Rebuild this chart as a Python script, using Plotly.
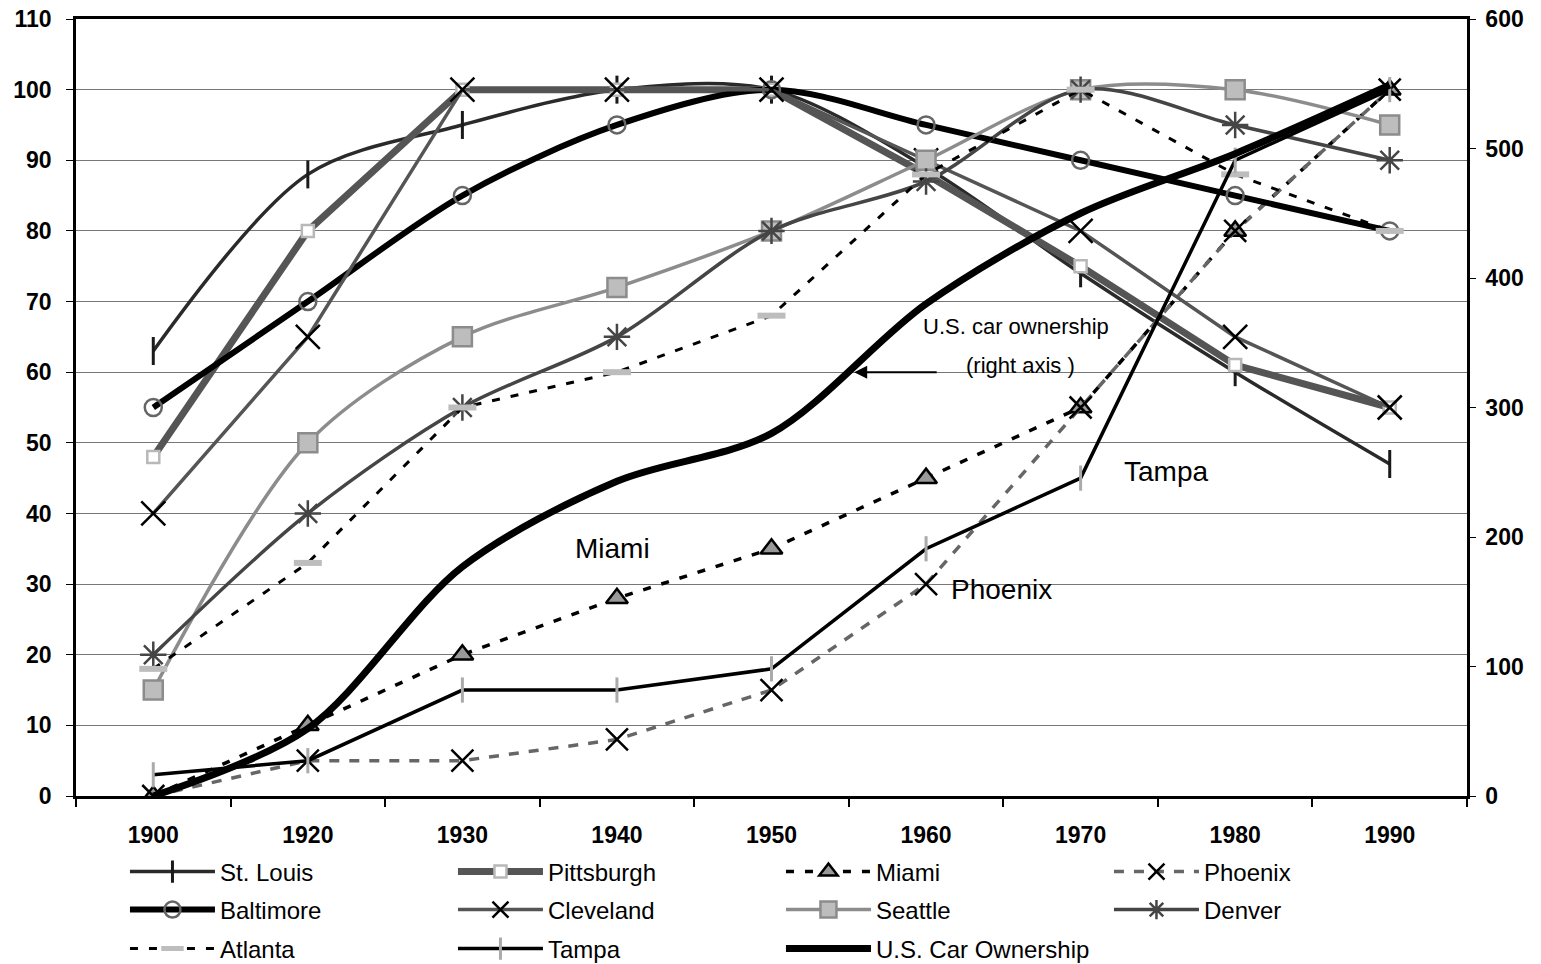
import plotly.graph_objects as go

years = ["1900", "1920", "1930", "1940", "1950", "1960", "1970", "1980", "1990"]

st_louis   = [63, 88, 95, 100, 100, 89, 74, 60, 47]
pittsburgh = [48, 80, 100, 100, 100, 88, 75, 61, 55]
miami      = [0, 10, 20, 28, 35, 45, 55, 80, 100]
phoenix    = [0, 5, 5, 8, 15, 30, 55, 80, 100]
baltimore  = [55, 70, 85, 95, 100, 95, 90, 85, 80]
cleveland  = [40, 65, 100, 100, 100, 90, 80, 65, 55]
seattle    = [15, 50, 65, 72, 80, 90, 100, 100, 95]
denver     = [20, 40, 55, 65, 80, 87, 100, 95, 90]
atlanta    = [18, 33, 55, 60, 68, 88, 100, 88, 80]
tampa      = [3, 5, 15, 15, 18, 35, 45, 90, 100]
us_cars    = [0, 52, 177, 243, 280, 380, 450, 496, 549]

FONT = "Liberation Sans"

fig = go.Figure()

def add(name, y, color, width, legend, dash="solid", shape="linear", marker=None, yaxis="y"):
    fig.add_trace(go.Scatter(
        x=years, y=y, name=name, yaxis=yaxis, legend=legend,
        mode="lines+markers" if marker else "lines",
        line=dict(color=color, width=width, dash=dash, shape=shape, smoothing=0.9),
        marker=marker or {},
    ))

add("St. Louis", st_louis, "#2a2a2a", 3.5, "legend", shape="spline",
    marker=dict(symbol="line-ns", size=20, line=dict(color="#1a1a1a", width=3)))
add("Pittsburgh", pittsburgh, "#555555", 7, "legend",
    marker=dict(symbol="square", size=12, color="white", line=dict(color="#b8b8b8", width=2.5)))
add("Miami", miami, "black", 3.5, "legend", dash="8px,11px",
    marker=dict(symbol="triangle-up", size=19, color="#999999", line=dict(color="black", width=2.5)))
add("Phoenix", phoenix, "#666666", 3.5, "legend", dash="10px,10px",
    marker=dict(symbol="x-thin", size=22, color="black", line=dict(color="black", width=2.5)))
add("Baltimore", baltimore, "black", 6, "legend2", shape="spline",
    marker=dict(symbol="circle-open", size=17, color="#666666", line=dict(color="#666666", width=2.5)))
add("Cleveland", cleveland, "#555555", 3.5, "legend2",
    marker=dict(symbol="x-thin", size=24, color="black", line=dict(color="black", width=2.5)))
add("Seattle", seattle, "#8c8c8c", 3.5, "legend2", shape="spline",
    marker=dict(symbol="square", size=19, color="#bdbdbd", line=dict(color="#8c8c8c", width=2.5)))
add("Denver", denver, "#454545", 3.5, "legend2", shape="spline",
    marker=dict(symbol="asterisk", size=22, color="#454545", line=dict(color="#454545", width=2.5)))
add("Atlanta", atlanta, "black", 3, "legend3", dash="8px,11px",
    marker=dict(symbol="line-ew", size=20, color="#bdbdbd", line=dict(color="#bdbdbd", width=6)))
add("Tampa", tampa, "black", 3.5, "legend3",
    marker=dict(symbol="line-ns", size=18, color="#aaaaaa", line=dict(color="#aaaaaa", width=3)))
add("U.S. Car Ownership", us_cars, "black", 7, "legend3", shape="spline", yaxis="y2")

big = dict(family=FONT, size=28, color="black")
mid = dict(family=FONT, size=22, color="black")
annotations = [
    dict(x=2.97, y=35.0, text="Miami", showarrow=False, font=big),
    dict(x=6.55, y=45.9, text="Tampa", showarrow=False, font=big),
    dict(x=5.49, y=29.2, text="Phoenix", showarrow=False, font=big),
    dict(x=5.58, y=66.4, text="U.S. car ownership", showarrow=False, font=mid),
    dict(x=5.61, y=61.0, text="(right axis )", showarrow=False, font=mid),
    dict(x=4.535, y=60.0, text="", showarrow=True, ax=84, ay=0,
         arrowhead=2, arrowsize=1.3, arrowwidth=2, arrowcolor="black"),
]
for a in annotations:
    a.update(xref="x", yref="y")

tickfont = dict(family=FONT, size=23, color="black", weight="bold")

leg_common = dict(orientation="h", x=0.0352, xanchor="left", yanchor="middle",
                  entrywidth=228, itemwidth=85, tracegroupgap=0,
                  bgcolor="rgba(0,0,0,0)",
                  font=dict(family=FONT, size=24, color="black"))

fig.update_layout(
    width=1541, height=964,
    margin=dict(l=76, r=74, t=19, b=168, autoexpand=False),
    plot_bgcolor="white", paper_bgcolor="white",
    font=dict(family=FONT, color="black"),
    annotations=annotations,
    xaxis=dict(type="category", range=[-0.5, 8.5], tickson="boundaries",
               ticks="outside", ticklen=8, tickwidth=1.5, tickcolor="black",
               showline=True, linecolor="black", linewidth=2.5, mirror=True,
               showgrid=False, tickfont=tickfont, ticklabelstandoff=17,
               automargin=False, ticklabeloverflow="allow"),
    yaxis=dict(range=[0, 110], dtick=10, showgrid=True, gridcolor="#777777", gridwidth=1,
               showline=True, linecolor="black", linewidth=2.5,
               ticks="outside", ticklen=7, tickcolor="black", tickfont=tickfont,
               ticklabelstandoff=10, zeroline=False, automargin=False,
               ticklabeloverflow="allow"),
    yaxis2=dict(range=[0, 600], dtick=100, overlaying="y", side="right",
                showgrid=False, showline=True, linecolor="black", linewidth=2.5,
                ticks="outside", ticklen=6, tickcolor="black", tickfont=tickfont,
                ticklabelstandoff=5, zeroline=False, automargin=False,
                ticklabeloverflow="allow"),
    legend=dict(leg_common, y=-0.0978),
    legend2=dict(leg_common, y=-0.1467),
    legend3=dict(leg_common, y=-0.1969),
)

fig.write_html("out.html",
               config={"displayModeBar": False},
               post_script="document.body.style.margin='0';document.body.style.overflow='hidden';")
